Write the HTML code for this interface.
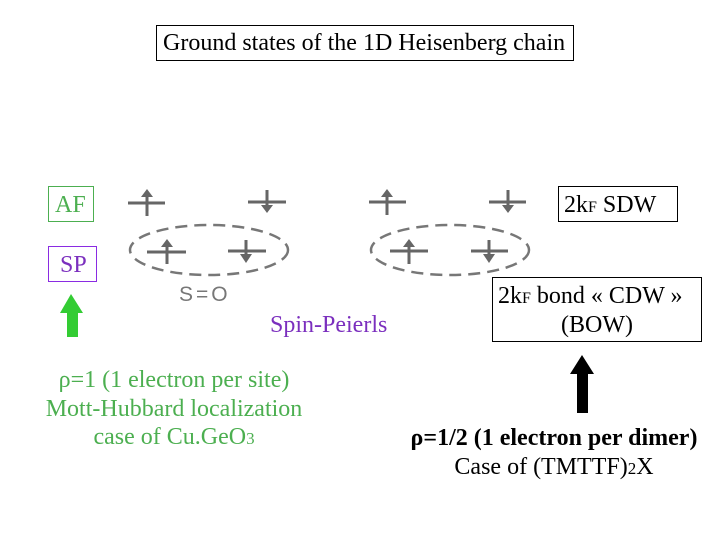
<!DOCTYPE html>
<html><head><style>
body{margin:0;width:720px;height:540px;background:#fff;position:relative;overflow:hidden;font-family:"Liberation Serif",serif;}
.t{position:absolute;white-space:nowrap;font-size:24px;line-height:1;}
.box{position:absolute;border:1px solid #000;box-sizing:border-box;}
</style></head><body>
<div class="box" style="left:156px;top:25px;width:418px;height:36px;"></div>
<div class="t" style="left:163px;top:31px;">Ground states of the 1D Heisenberg chain</div>

<div class="box" style="left:48px;top:186px;width:46px;height:36px;border-color:#4caf50;"></div>
<div class="t" style="left:55px;top:193px;color:#4caf50;">AF</div>
<div class="box" style="left:48px;top:246px;width:49px;height:36px;border-color:#8a2be2;"></div>
<div class="t" style="left:60px;top:253px;color:#7b2fbe;">SP</div>

<div class="box" style="left:558px;top:186px;width:120px;height:36px;"></div>
<div class="t" style="left:564px;top:193px;">2k<span style="font-size:16px">F</span> SDW</div>

<div class="box" style="left:492px;top:277px;width:210px;height:65px;"></div>
<div class="t" style="left:498px;top:284px;">2k<span style="font-size:16px">F</span> bond « CDW »</div>
<div class="t" style="left:561px;top:313px;">(BOW)</div>

<svg style="position:absolute;left:0;top:0" width="720" height="540">
<g stroke="#666" stroke-width="3" fill="#666">
<line x1="128" y1="203" x2="165" y2="203"/><line x1="147" y1="216" x2="147" y2="194"/><polygon points="141,197 147,189 153,197" stroke="none"/>
<line x1="248" y1="202" x2="286" y2="202"/><line x1="267" y1="190" x2="267" y2="207"/><polygon points="261,205 267,213 273,205" stroke="none"/>
<line x1="369" y1="202" x2="406" y2="202"/><line x1="387" y1="215" x2="387" y2="194"/><polygon points="381,197 387,189 393,197" stroke="none"/>
<line x1="489" y1="202" x2="526" y2="202"/><line x1="508" y1="190" x2="508" y2="207"/><polygon points="502,205 508,213 514,205" stroke="none"/>
<line x1="147" y1="252" x2="186" y2="252"/><line x1="167" y1="264" x2="167" y2="244"/><polygon points="161,247 167,239 173,247" stroke="none"/>
<line x1="228" y1="251" x2="266" y2="251"/><line x1="246" y1="240" x2="246" y2="256"/><polygon points="240,254 246,263 252,254" stroke="none"/>
<line x1="390" y1="251" x2="428" y2="251"/><line x1="409" y1="264" x2="409" y2="244"/><polygon points="403,247 409,239 415,247" stroke="none"/>
<line x1="471" y1="251" x2="508" y2="251"/><line x1="489" y1="240" x2="489" y2="256"/><polygon points="483,254 489,263 495,254" stroke="none"/>
</g>
<g fill="none" stroke="#777" stroke-width="2.5" stroke-dasharray="12,7">
<ellipse cx="209" cy="250" rx="79" ry="25"/>
<ellipse cx="450" cy="250" rx="79" ry="25"/>
</g>
<text x="179" y="301" font-family="Liberation Sans,sans-serif" font-size="21" letter-spacing="3" fill="#777">S=O</text>
<polygon points="60,313 71,294 83,313 78,313 78,337 67,337 67,313" fill="#33cc33"/>
<polygon points="570,374 582,355 594,374 588,374 588,413 577,413 577,374" fill="#000"/>
</svg>

<div class="t" style="left:270px;top:313px;color:#7b2fbe;">Spin-Peierls</div>
<div class="t" style="left:36px;top:366px;width:276px;text-align:center;color:#4caf50;line-height:28.5px;">ρ=1 (1 electron per site)<br>Mott-Hubbard localization<br>case of Cu.GeO<span style="font-size:17px">3</span></div>
<div class="t" style="left:395px;top:424px;width:318px;text-align:center;line-height:28.5px;"><b>ρ=1/2 (1 electron per dimer)</b><br>Case of (TMTTF)<span style="font-size:17px">2</span>X</div>
</body></html>
